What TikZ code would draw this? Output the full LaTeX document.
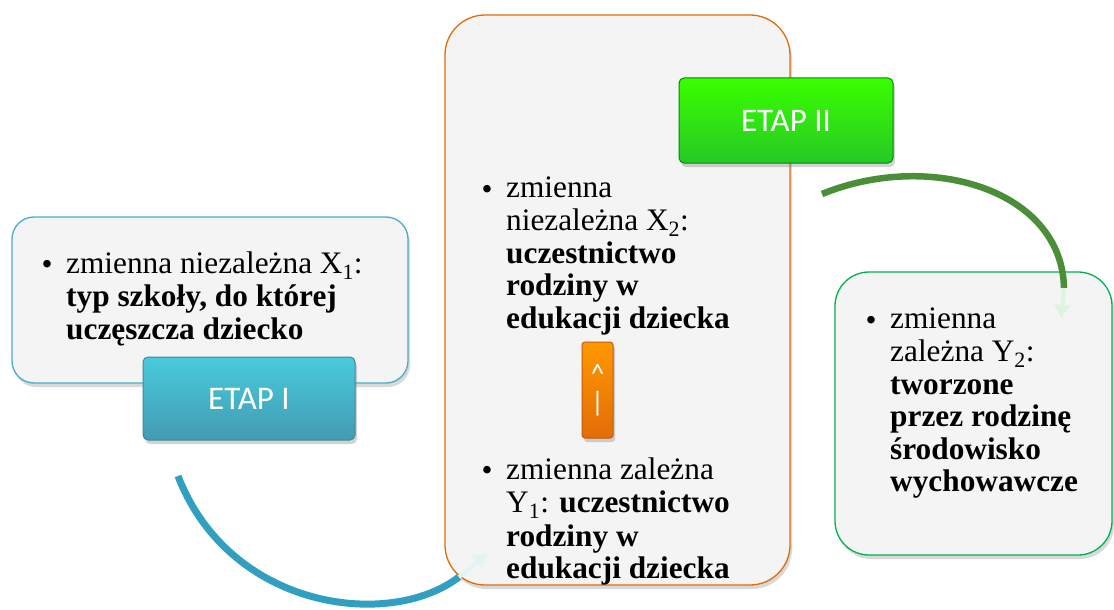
\documentclass[tikz,border=0pt]{standalone}
\usepackage{fontspec}
\setmainfont{Liberation Serif}
\newfontfamily\etapfont{Carlito}
\usetikzlibrary{shadows,arrows.meta}
\definecolor{tlo}{HTML}{F4F4F4}
\definecolor{turkus}{HTML}{4BACC6}
\definecolor{pomarancz}{HTML}{E36C09}
\definecolor{zielen}{HTML}{00B050}
\definecolor{lukturkus}{HTML}{319FC0}
\definecolor{lukzielen}{HTML}{4A8F38}
\tikzset{
  ramka/.style={draw, line width=1.3pt, fill=tlo, rounded corners=22pt,
    drop shadow={opacity=0.3, shadow xshift=2pt, shadow yshift=-4pt}},
  przycisk/.style={draw, line width=1pt, rounded corners=5pt, text=white,
    font=\etapfont\fontsize{33}{35}\selectfont,
    drop shadow={opacity=0.35, shadow xshift=2pt, shadow yshift=-4pt}},
  tekst/.style={font=\fontsize{31.3}{32.6}\selectfont, align=left, inner sep=0pt, anchor=north west},
  kropka/.style={font=\fontsize{31.3}{32.6}\selectfont, inner sep=0pt, anchor=base},
  luk/.style={line width=7pt},
  grot/.style={line width=4pt, -{Triangle[length=13pt,width=15pt]}},
}
\begin{document}
\begin{tikzpicture}[x=1pt,y=-1pt]
\useasboundingbox (0,0) rectangle (1114,610);
% ramki
\node[ramka, draw=turkus, minimum width=396pt, minimum height=166pt] (box1) at (210,300) {};
\node[ramka, draw=pomarancz, rounded corners=40pt, minimum width=345pt, minimum height=570pt] (box2) at (617.5,300) {};
\node[ramka, draw=zielen, rounded corners=34pt, minimum width=277pt, minimum height=283pt] (box3) at (973.5,413.5) {};
% teksty
\node[kropka] (k1) at (47,274) {\textbullet};
\node[tekst] (t1) at (66,252) {zmienna niezależna X\textsubscript{1}:\\
  \textbf{typ szkoły, do której}\\ \textbf{uczęszcza dziecko}};
\node[kropka] (k2) at (487,199) {\textbullet};
\node[tekst] (t2) at (506,177) {zmienna\\ niezależna X\textsubscript{2}:\\
  \textbf{uczestnictwo}\\ \textbf{rodziny w}\\ \textbf{edukacji dziecka}};
\node[kropka] (k3) at (487,480) {\textbullet};
\node[tekst] (t3) at (506,458) {zmienna zależna\\ Y\textsubscript{1}: \textbf{uczestnictwo}\\[1pt]
  \textbf{rodziny w}\\ \textbf{edukacji dziecka}};
\node[kropka] (k4) at (871,330) {\textbullet};
\node[tekst] (t4) at (890,308) {zmienna\\ zależna Y\textsubscript{2}:\\ \textbf{tworzone}\\
  \textbf{przez rodzinę}\\ \textbf{środowisko}\\ \textbf{wychowawcze}};
% przyciski
\node[przycisk, draw=turkus!80!black, top color=turkus!70!cyan!90!white, bottom color=turkus!90!black,
  minimum width=212pt, minimum height=83pt] (etap1) at (249,398.5) {ETAP I};
\node[przycisk, draw=green!55!black, top color=green!70!lime, bottom color=green!75!black!85!white,
  minimum width=214pt, minimum height=85pt] (etap2) at (786,120.5) {ETAP II};
\node[przycisk, draw=pomarancz!85!black, top color=orange!80!yellow, bottom color=pomarancz,
  rounded corners=3pt, minimum width=31pt, minimum height=96pt, inner sep=0pt,
  font=\etapfont\fontsize{28}{28}\selectfont, align=center] (strzalka) at (597.5,390)
  {\textasciicircum\\|};
% strzalki
\coordinate (p1) at (178,476);
\coordinate (q1) at (459,577);
\draw[luk, draw=lukturkus] (p1) .. controls (230,610) and (390,630) .. (q1);
\draw[grot, draw=turkus!15, fill=turkus!15] (q1) -- (487,554);
\coordinate (p2) at (822,194);
\coordinate (q2) at (1064,288);
\draw[luk, line width=6.5pt, draw=lukzielen] (p2) .. controls (930,150) and (1062,190) .. (q2);
\draw[grot, draw=green!10!tlo, fill=green!10!tlo] (q2) -- (1061,318);
\end{tikzpicture}
\end{document}
